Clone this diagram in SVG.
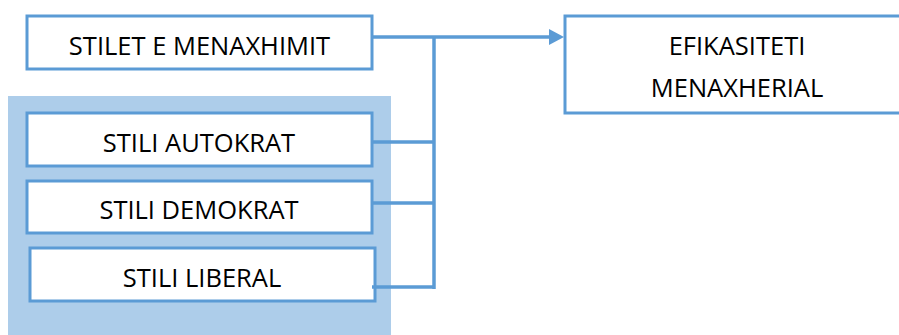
<svg xmlns="http://www.w3.org/2000/svg" width="899" height="335" viewBox="0 0 899 335">
<style>
.box{fill:#fff;stroke:#5B9BD5;stroke-width:3}
.t{font-family:"Open Sans","Liberation Sans",sans-serif;font-size:25.5px;fill:#000;text-anchor:middle}
.c{stroke:#5B9BD5;stroke-width:3.5;fill:none}
</style>
<rect x="8" y="96" width="383" height="239" fill="#ADCDEA"/>
<g id="n1"><rect class="box" x="27" y="16" width="345" height="53"/><text class="t" x="199.5" y="55">STILET E MENAXHIMIT</text></g>
<g id="n2"><rect class="box" x="565" y="16" width="340" height="97"/><text class="t" x="737" y="55">EFIKASITETI</text><text class="t" x="737" y="97">MENAXHERIAL</text></g>
<g id="n3"><rect class="box" x="27" y="113" width="345" height="53"/><text class="t" x="199" y="152">STILI AUTOKRAT</text></g>
<g id="n4"><rect class="box" x="27" y="181" width="345" height="52"/><text class="t" x="199" y="219">STILI DEMOKRAT</text></g>
<g id="n5"><rect class="box" x="30" y="248" width="345" height="53"/><text class="t" x="202" y="287">STILI LIBERAL</text></g>
<g id="connectors">
<path class="c" d="M372,37 H552"/>
<path d="M549,29 L564,37 L549,45 Z" fill="#5B9BD5"/>
<path class="c" d="M434,36 V289"/>
<path class="c" d="M372,142 H434"/>
<path class="c" d="M372,203 H434"/>
<path class="c" d="M372,287 H434"/>
</g>
</svg>
